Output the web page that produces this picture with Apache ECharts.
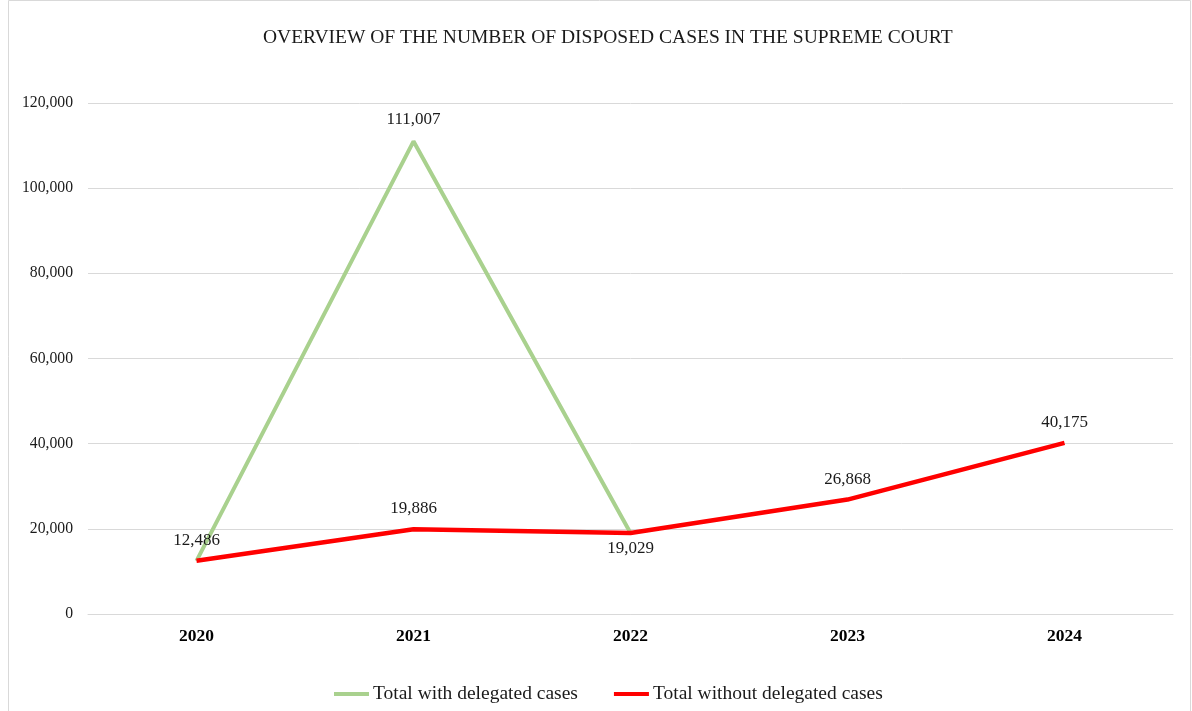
<!DOCTYPE html>
<html><head><meta charset="utf-8">
<script src="https://cdn.jsdelivr.net/npm/echarts@6/dist/echarts.min.js"></script>
<style>html,body{margin:0;padding:0;background:#fff}#c{width:1192px;height:711px}</style>
</head><body><div id="c"></div>
<script>
const categories = ['2020','2021','2022','2023','2024'];
const withDelegated = [12486, 111007, 19029, null, null];
const withoutDelegated = [12486, 19886, 19029, 26868, 40175];
const yTicks = [0, 20000, 40000, 60000, 80000, 100000, 120000];
const greenLabelShown = [false, true, false, false, false];
const redLabelPos = ['top','top','bottom','top','top'];

const font = '"Liberation Serif", "Times New Roman", serif';
const fmt = v => v.toLocaleString('en-US');
const chart = echarts.init(document.getElementById('c'));
chart.setOption({
  animation: false,
  graphic: [{type:'rect', shape:{x:8.5,y:0.5,width:1182,height:720}, style:{fill:null, stroke:'#d9d9d9', lineWidth:1}}],
  title: {text:'OVERVIEW OF THE NUMBER OF DISPOSED CASES IN THE SUPREME COURT', left:258, top:23,
    textStyle:{fontFamily:font, fontSize:19.5, fontWeight:'normal', color:'#1a1a1a'}},
  grid: {left:88, right:19, top:103, bottom:97, containLabel:false},
  legend: {left:329, top:679, itemGap:36, itemWidth:35, itemHeight:4, icon:'rect',
    textStyle:{fontFamily:font, fontSize:19.5, color:'#1a1a1a', padding:[0,0,0,-1]},
    data:['Total with delegated cases','Total without delegated cases']},
  xAxis: {type:'category', data:categories, boundaryGap:true,
    axisLine:{show:true, lineStyle:{color:'#d9d9d9'}}, axisTick:{show:false},
    axisLabel:{fontFamily:font, fontSize:17.5, fontWeight:'bold', color:'#000', margin:13}},
  yAxis: {type:'value', min:yTicks[0], max:yTicks[yTicks.length-1], interval:20000,
    axisLine:{show:false}, axisTick:{show:false},
    splitLine:{lineStyle:{color:'#d9d9d9'}},
    axisLabel:{fontFamily:font, fontSize:15.7, color:'#1a1a1a', margin:15, formatter:fmt}},
  series: [
    {name:'Total with delegated cases', type:'line', showSymbol:true, symbol:'circle', symbolSize:0.1,
     itemStyle:{color:'#a9d18e'}, lineStyle:{color:'#a9d18e', width:4},
     data: withDelegated.map((v,i)=>({value:v, label:{show:greenLabelShown[i]}})),
     label:{position:'top', distance:13, fontFamily:font, fontSize:17, color:'#1a1a1a', formatter:p=>fmt(p.value)}},
    {name:'Total without delegated cases', type:'line', showSymbol:true, symbol:'circle', symbolSize:0.1,
     itemStyle:{color:'#ff0000'}, lineStyle:{color:'#ff0000', width:4.5},
     data: withoutDelegated.map((v,i)=>({value:v, label:{show:true, position:redLabelPos[i], distance: redLabelPos[i]==='bottom'?7:12}})),
     label:{fontFamily:font, fontSize:17, color:'#1a1a1a', formatter:p=>fmt(p.value)}}
  ]
});
</script></body></html>
